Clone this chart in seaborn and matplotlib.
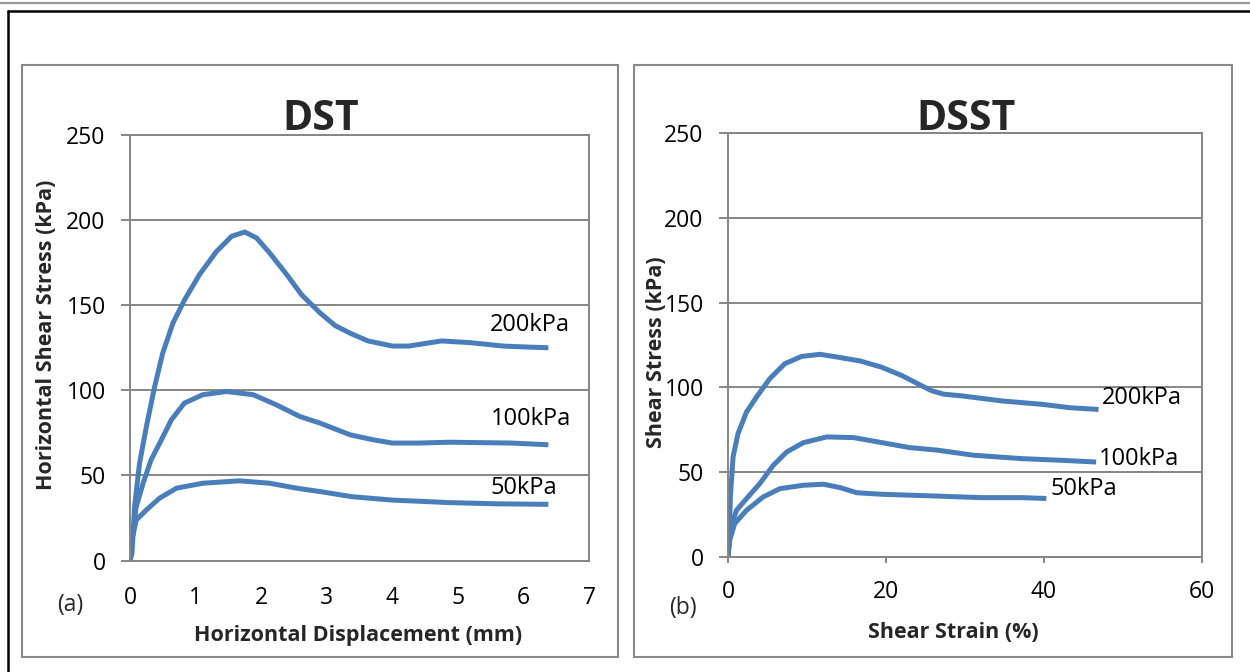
import matplotlib
matplotlib.use("Agg")
import matplotlib.pyplot as plt
import seaborn as sns
import pandas as pd
from matplotlib.lines import Line2D
from matplotlib.patches import Rectangle

# ---------------- data ----------------
dst_200_x = [0, 0.03, 0.07, 0.145, 0.25, 0.375, 0.5, 0.655, 0.83, 1.06, 1.32, 1.55, 1.75, 1.93,
             2.13, 2.39, 2.62, 2.9, 3.13, 3.36, 3.63, 4.0, 4.25, 4.5, 4.75, 5.19, 5.69, 6.0, 6.38]
dst_200_y = [0, 4.2, 31.6, 57, 78.7, 102, 122, 139.5, 153, 168, 181.6, 190.5, 193, 189.5,
             180.7, 168, 156, 145.4, 138, 133.5, 129, 126, 126, 127.5, 129, 128, 126, 125.5, 125]
dst_100_x = [0, 0.03, 0.095, 0.2, 0.32, 0.48, 0.63, 0.83, 1.11, 1.47, 1.88, 2.23, 2.59, 2.9,
             3.36, 3.7, 4.0, 4.4, 4.88, 5.81, 6.38]
dst_100_y = [0, 12, 31.6, 45.4, 59, 71, 82.6, 92.5, 97.4, 99.3, 97.4, 91.5, 84.6, 80.7,
             73.8, 71, 69, 69, 69.5, 69, 68]
dst_50_x = [0, 0.03, 0.095, 0.25, 0.45, 0.71, 1.11, 1.67, 2.13, 2.54, 2.9, 3.38, 4.0, 4.88, 5.6, 6.38]
dst_50_y = [0, 12, 23.8, 29.7, 36.6, 42.5, 45.4, 46.8, 45.4, 42.5, 40.5, 37.5, 35.5, 34, 33.3, 33]

dsst_200_x = [0, 0.13, 0.3, 0.64, 1.27, 2.34, 3.6, 5.3, 7.2, 9.33, 11.66, 13.8, 16.7, 19.4,
              22.0, 24.5, 25.8, 27.3, 29.6, 34.7, 39.8, 43.3, 46.9]
dsst_200_y = [0, 7.9, 35.4, 59, 72.8, 85.5, 94.3, 105.2, 114, 118.3, 119.5, 117.9, 115.6, 112,
              107, 101, 98, 96, 95, 92, 90, 88, 87]
dsst_100_x = [0, 0.21, 1.07, 2.34, 4.03, 5.72, 7.42, 9.53, 12.5, 15.9, 19.4, 23.0, 26.5,
              31.1, 37.2, 42.3, 46.6]
dsst_100_y = [0, 15.7, 27.5, 34.4, 43.3, 54, 61.9, 67.4, 70.8, 70.4, 67.5, 64.5, 63,
              60, 58, 57, 56]
dsst_50_x = [0, 0.21, 0.85, 2.34, 4.45, 6.57, 9.53, 12.1, 14.2, 16.3, 19.4, 26.0, 32.1, 37.2, 40.3]
dsst_50_y = [0, 9.8, 19.7, 27.5, 35.4, 40.3, 42.3, 42.9, 40.9, 37.9, 37, 36, 35, 35, 34.5]

series_labels = ["200kPa", "100kPa", "50kPa"]
y_ticks = [0, 50, 100, 150, 200, 250]
dst_x_ticks = [0, 1, 2, 3, 4, 5, 6, 7]
dsst_x_ticks = [0, 20, 40, 60]

# ---------------- style ----------------
sns.set_theme(style="white")
plt.rcParams["font.family"] = ["Open Sans", "DejaVu Sans"]

W, H = 1250, 672
fig = plt.figure(figsize=(W / 100, H / 100), dpi=100)

def fx(px):
    return px / W

def fy(py):
    return 1 - py / H

BLUE = "#4A7EBB"
GRAY = "#868686"
TICK_FS = 16.5
LAB_FS = 15.5

def make_df(xs, ys):
    rows = []
    for lab, x, y in zip(series_labels, xs, ys):
        for i, (a, b) in enumerate(zip(x, y)):
            rows.append({"series": lab, "x": a, "y": b, "order": i})
    return pd.DataFrame(rows)

def style_axes(ax, xmax, xticks, xtick_len, xpad, ypad):
    ax.set_xlim(0, xmax)
    ax.set_ylim(0, 250)
    ax.set_xticks(xticks)
    ax.set_yticks(y_ticks)
    ax.yaxis.grid(True, color=GRAY, lw=1.4)
    ax.xaxis.grid(False)
    ax.set_axisbelow(True)
    for s in ax.spines.values():
        s.set_visible(True)
        s.set_color(GRAY)
        s.set_linewidth(1.4)
    ax.tick_params(axis="y", length=6.5, width=1.4, color=GRAY, direction="out",
                   pad=ypad, labelsize=TICK_FS, labelcolor="black", left=True)
    ax.tick_params(axis="x", length=xtick_len, width=1.4, color=GRAY, direction="out",
                   pad=xpad, labelsize=TICK_FS, labelcolor="black", bottom=True)
    ax.set_xlabel("")
    ax.set_ylabel("")

# left panel
ax1 = fig.add_axes([fx(130), fy(560.5), fx(589) - fx(130), fy(135) - fy(560.5)])
df1 = make_df([dst_200_x, dst_100_x, dst_50_x], [dst_200_y, dst_100_y, dst_50_y])
sns.lineplot(data=df1, x="x", y="y", hue="series", units="series", estimator=None, sort=False,
             palette=[BLUE] * 3, lw=3.6, ax=ax1, legend=False,
             solid_joinstyle="round", solid_capstyle="butt")
style_axes(ax1, 7, dst_x_ticks, 0, 18, 11)

# right panel
ax2 = fig.add_axes([fx(728), fy(557), fx(1202) - fx(728), fy(133) - fy(557)])
df2 = make_df([dsst_200_x, dsst_100_x, dsst_50_x], [dsst_200_y, dsst_100_y, dsst_50_y])
sns.lineplot(data=df2, x="x", y="y", hue="series", units="series", estimator=None, sort=False,
             palette=[BLUE] * 3, lw=3.6, ax=ax2, legend=False,
             solid_joinstyle="round", solid_capstyle="butt")
style_axes(ax2, 60, dsst_x_ticks, 4.5, 12, 11)

# series labels anchored at the end of each curve
left_offsets = [(-58, 22.5), (-58, 26), (-58, 16)]
right_offsets = [(3, 11), (3, 3), (4, 9.5)]
for ax, xs, ys, offs in [
    (ax1, [dst_200_x, dst_100_x, dst_50_x], [dst_200_y, dst_100_y, dst_50_y], left_offsets),
    (ax2, [dsst_200_x, dsst_100_x, dsst_50_x], [dsst_200_y, dsst_100_y, dsst_50_y], right_offsets),
]:
    for lab, x, y, (dx, dy) in zip(series_labels, xs, ys, offs):
        ax.annotate(lab, xy=(x[-1], y[-1]), xytext=(dx, dy), textcoords="offset pixels",
                    ha="left", va="center", fontsize=17, color="black")

# titles
fig.text(fx(321), fy(130), "DST", ha="center", va="baseline", fontsize=29.5, fontweight="bold")
fig.text(fx(966), fy(130), "DSST", ha="center", va="baseline", fontsize=29.5, fontweight="bold")

# axis labels
fig.text(fx(358), fy(636), "Horizontal Displacement (mm)", ha="center", va="center",
         fontsize=LAB_FS, fontweight="bold")
fig.text(fx(953), fy(632), "Shear Strain (%)", ha="center", va="center",
         fontsize=LAB_FS, fontweight="bold")
fig.text(fx(47), fy(335), "Horizontal Shear Stress (kPa)", ha="center", va="center",
         rotation=90, fontsize=LAB_FS, fontweight="bold")
fig.text(fx(656), fy(352), "Shear Stress (kPa)", ha="center", va="center",
         rotation=90, fontsize=LAB_FS, fontweight="bold")

# panel tags
fig.text(fx(70), fy(605), "(a)", ha="center", va="center", fontsize=TICK_FS)
fig.text(fx(683), fy(608), "(b)", ha="center", va="center", fontsize=TICK_FS)

# panel frames
for x0, x1 in [(21.5, 618), (634, 1232)]:
    fig.patches.append(Rectangle((fx(x0), fy(657)), fx(x1) - fx(x0), fy(65) - fy(657),
                                 transform=fig.transFigure, fill=False, ec="#8A8A8A", lw=1.5))

# page frame
fig.lines.append(Line2D([0, 1], [fy(2.5), fy(2.5)], transform=fig.transFigure, color="#9A9A9A", lw=1.6))
fig.lines.append(Line2D([fx(8.3), 1], [fy(10.7), fy(10.7)], transform=fig.transFigure, color="black", lw=1.8))
fig.lines.append(Line2D([fx(8.3), fx(8.3)], [fy(10.7), 0], transform=fig.transFigure, color="black", lw=1.8))

fig.savefig("out.png", dpi=100)
